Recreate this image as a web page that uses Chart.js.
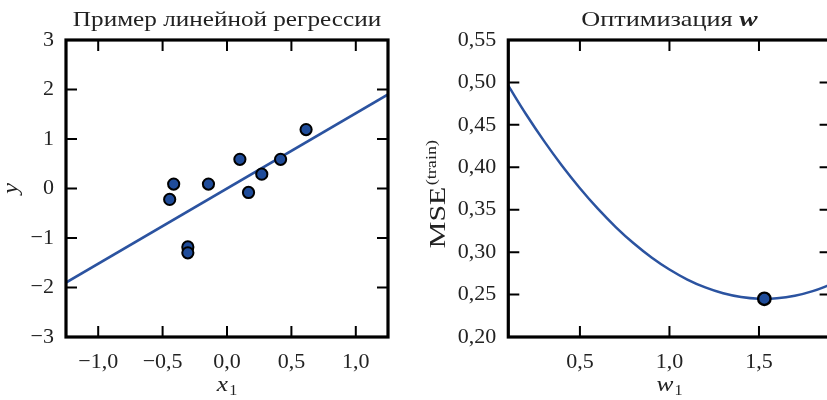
<!DOCTYPE html>
<html>
<head>
<meta charset="utf-8">
<script src="https://cdn.jsdelivr.net/npm/chart.js@4.4.1/dist/chart.umd.min.js"></script>
<style>
  html, body { margin: 0; padding: 0; width: 827px; height: 400px; overflow: hidden; background: #fff; }
  canvas { position: absolute; top: 0; }
  #c1 { left: 0; }
  #c2 { left: 410px; }
</style>
</head>
<body>
<canvas id="c1" width="410" height="400"></canvas>
<canvas id="c2" width="440" height="400"></canvas>
<script>
// Training sample for the regression example
const sampleX = [-0.445, -0.414, -0.304, -0.304, -0.144, 0.100, 0.167, 0.270, 0.416, 0.614];
const sampleY = [-0.22, 0.09, -1.18, -1.30, 0.09, 0.59, -0.08, 0.29, 0.59, 1.19];

// Fitted regression line (end points over the plotted x range)
const fitX = [-1.25, 1.25];
const fitY = [-1.90, 1.90];

// Training MSE as a function of the weight w1
const weightW = [0.1, 0.2, 0.3, 0.4, 0.5, 0.6, 0.7, 0.8, 0.9, 1.0, 1.1, 1.2, 1.3, 1.4, 1.5, 1.6, 1.7, 1.8, 1.9];
const mseTrain = [0.4961, 0.4622, 0.4308, 0.4018, 0.3753, 0.3512, 0.3296, 0.3104, 0.2937, 0.2795,
                  0.2677, 0.2584, 0.2515, 0.2471, 0.2451, 0.2456, 0.2485, 0.2540, 0.2618];

// Optimum found by training
const bestW = [1.53];
const bestMse = [0.245];

// Tick values
const leftXTicks = [-1.0, -0.5, 0.0, 0.5, 1.0];
const leftYTicks = [-3, -2, -1, 0, 1, 2, 3];
const rightXTicks = [0.5, 1.0, 1.5];
const rightYTicks = [0.20, 0.25, 0.30, 0.35, 0.40, 0.45, 0.50, 0.55];

const LINE_BLUE = '#2b53a0';
const DOT_BLUE = '#1f4c9a';
const SERIF = '"Liberation Serif", "DejaVu Serif", serif';
const TEXT = '#222';

function fmt(v, digits) {
  return v.toFixed(digits).replace('.', ',').replace('-', '\u2212');
}

// Draws a run of differently styled text pieces centred on (cx, baseline cy)
function drawRich(ctx, parts, cx, cy, rot, sx) {
  ctx.save();
  ctx.translate(cx, cy);
  ctx.rotate(rot || 0);
  ctx.scale(sx || 1, 1);
  ctx.fillStyle = TEXT;
  ctx.textBaseline = 'alphabetic';
  let w = 0;
  parts.forEach(p => { ctx.font = p.font; w += ctx.measureText(p.text).width + (p.gap || 0); });
  let x = -w / 2;
  parts.forEach(p => {
    ctx.font = p.font;
    x += (p.gap || 0);
    ctx.fillText(p.text, x, p.dy || 0);
    x += ctx.measureText(p.text).width;
  });
  ctx.restore();
}

// Frame with inward ticks on all four sides plus title and axis captions
const framePlugin = {
  id: 'frame',
  afterDraw(chart, args, opts) {
    const { ctx, chartArea: a, scales: { x, y } } = chart;
    const L = 11;
    ctx.save();
    ctx.strokeStyle = '#000';
    ctx.lineWidth = 2;
    ctx.beginPath();
    x.ticks.forEach(t => {
      const px = x.getPixelForValue(t.value);
      ctx.moveTo(px, a.bottom); ctx.lineTo(px, a.bottom - L);
      ctx.moveTo(px, a.top); ctx.lineTo(px, a.top + L);
    });
    y.ticks.forEach(t => {
      const py = y.getPixelForValue(t.value);
      ctx.moveTo(a.left, py); ctx.lineTo(a.left + L, py);
      ctx.moveTo(a.right, py); ctx.lineTo(a.right - L, py);
    });
    ctx.stroke();
    ctx.lineWidth = 3.2;
    ctx.strokeRect(a.left, a.top, a.right - a.left, a.bottom - a.top);
    ctx.restore();

    const cx = (a.left + a.right) / 2;
    const cy = (a.top + a.bottom) / 2;
    drawRich(ctx, opts.title, cx, opts.titleY, 0, opts.titleScale);
    drawRich(ctx, opts.xLabel, cx, opts.xLabelY, 0, 1.15);
    drawRich(ctx, opts.yLabel, opts.yLabelX, opts.yLabelY || cy, -Math.PI / 2, opts.yLabelScale);
  }
};

function axisCommon(min, max, values, digits, fit) {
  return {
    type: 'linear',
    min: min,
    max: max,
    afterBuildTicks: s => { s.ticks = values.map(v => ({ value: v })); },
    afterFit: fit,
    grid: { display: false, drawTicks: false },
    border: { display: false },
    ticks: {
      color: TEXT,
      font: { family: SERIF, size: 22 },
      padding: 12,
      autoSkip: false,
      maxRotation: 0,
      callback: v => fmt(v, digits)
    }
  };
}

const italic = size => 'italic ' + size + 'px ' + SERIF;
const upright = size => size + 'px ' + SERIF;

new Chart(document.getElementById('c1'), {
  type: 'scatter',
  data: {
    datasets: [
      {
        data: sampleX.map((v, i) => ({ x: v, y: sampleY[i] })),
        backgroundColor: DOT_BLUE,
        borderColor: '#000',
        borderWidth: 2,
        pointRadius: 5.6,
        order: 0
      },
      {
        type: 'line',
        data: fitX.map((v, i) => ({ x: v, y: fitY[i] })),
        borderColor: LINE_BLUE,
        borderWidth: 2.5,
        pointRadius: 0,
        fill: false,
        order: 1
      }
    ]
  },
  options: {
    responsive: false,
    animation: false,
    layout: { padding: { left: 0, right: 22, top: 40, bottom: 0 } },
    scales: {
      x: axisCommon(-1.25, 1.25, leftXTicks, 1, s => { s.height = 63; }),
      y: axisCommon(-3, 3, leftYTicks, 0, s => { s.width = 66; })
    },
    plugins: {
      legend: { display: false },
      tooltip: { enabled: false },
      frame: {
        title: [{ text: 'Пример линейной регрессии', font: upright(21) }],
        titleY: 26,
        titleScale: 1.2,
        xLabel: [{ text: 'x', font: italic(22) }, { text: '1', font: upright(14), dy: 4, gap: 1 }],
        xLabelY: 391,
        yLabel: [{ text: 'y', font: italic(22) }],
        yLabelX: 17,
        yLabelScale: 1.1
      }
    }
  },
  plugins: [framePlugin]
});

new Chart(document.getElementById('c2'), {
  type: 'scatter',
  data: {
    datasets: [
      {
        data: bestW.map((v, i) => ({ x: v, y: bestMse[i] })),
        backgroundColor: DOT_BLUE,
        borderColor: '#000',
        borderWidth: 2.4,
        pointRadius: 6.2,
        order: 0
      },
      {
        type: 'line',
        data: weightW.map((v, i) => ({ x: v, y: mseTrain[i] })),
        borderColor: LINE_BLUE,
        borderWidth: 2.5,
        pointRadius: 0,
        tension: 0.4,
        fill: false,
        order: 1
      }
    ]
  },
  options: {
    responsive: false,
    animation: false,
    layout: { padding: { left: 0, right: 19.4, top: 40, bottom: 0 } },
    scales: {
      x: axisCommon(0.1, 1.9, rightXTicks, 1, s => { s.height = 63; }),
      y: axisCommon(0.2, 0.55, rightYTicks, 2, s => { s.width = 98.3; })
    },
    plugins: {
      legend: { display: false },
      tooltip: { enabled: false },
      frame: {
        title: [{ text: 'Оптимизация ', font: upright(21) }, { text: 'w', font: 'italic bold 22px ' + SERIF }],
        titleY: 26,
        titleScale: 1.25,
        xLabel: [{ text: 'w', font: italic(22) }, { text: '1', font: upright(14), dy: 4, gap: 1 }],
        xLabelY: 391,
        yLabel: [{ text: 'MSE', font: upright(23) }, { text: '(train)', font: upright(14), dy: -9, gap: 1 }],
        yLabelX: 35,
        yLabelY: 194,
        yLabelScale: 1.3
      }
    }
  },
  plugins: [framePlugin]
});
</script>
</body>
</html>
